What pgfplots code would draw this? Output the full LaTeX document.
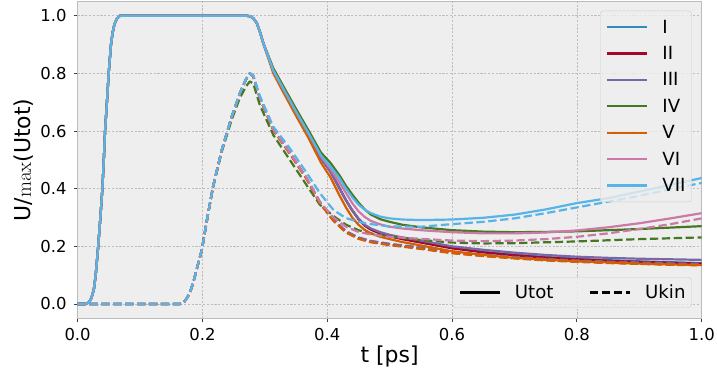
\documentclass[border=0pt]{standalone}
\usepackage[no-math]{fontspec}
\setmainfont{DejaVu Sans}
\usepackage{pgfplots}
\usepackage{pgfplotstable}
\pgfplotsset{compat=1.18}
\definecolor{cI}{HTML}{348ABD}
\definecolor{cII}{HTML}{A60628}
\definecolor{cIII}{HTML}{7A68A6}
\definecolor{cIV}{HTML}{467821}
\definecolor{cV}{HTML}{D55E00}
\definecolor{cVI}{HTML}{CC79A7}
\definecolor{cVII}{HTML}{56B4E9}
\definecolor{bmhbg}{HTML}{EEEEEE}
\definecolor{spine}{HTML}{BCBCBC}
\definecolor{gridc}{HTML}{BEBEBE}
\definecolor{legedge}{HTML}{CCCCCC}

\pgfplotstableread{
t      I     II    III   IV    V     VI    VII
0      0     0     0     0     0     0     0
0.012  0     0     0     0     0     0     0
0.018  0.005 0.005 0.005 0.005 0.005 0.005 0.005
0.022  0.02  0.02  0.02  0.02  0.02  0.02  0.02
0.026  0.05  0.05  0.05  0.05  0.05  0.05  0.05
0.029  0.10  0.10  0.10  0.10  0.10  0.10  0.10
0.033  0.20  0.20  0.20  0.20  0.20  0.20  0.20
0.0365 0.30  0.30  0.30  0.30  0.30  0.30  0.30
0.0397 0.40  0.40  0.40  0.40  0.40  0.40  0.40
0.042  0.50  0.50  0.50  0.50  0.50  0.50  0.50
0.044  0.60  0.60  0.60  0.60  0.60  0.60  0.60
0.047  0.70  0.70  0.70  0.70  0.70  0.70  0.70
0.0498 0.80  0.80  0.80  0.80  0.80  0.80  0.80
0.0535 0.90  0.90  0.90  0.90  0.90  0.90  0.90
0.056  0.94  0.94  0.94  0.94  0.94  0.94  0.94
0.059  0.97  0.97  0.97  0.97  0.97  0.97  0.97
0.063  0.99  0.99  0.99  0.99  0.99  0.99  0.99
0.068  1.0   1.0   1.0   1.0   1.0   1.0   1.0
0.27   1.0   1.0   1.0   1.0   1.0   1.0   1.0
0.277  0.998 0.998 0.998 0.998 0.998 0.998 0.998
0.282  0.99  0.99  0.99  0.99  0.99  0.99  0.99
0.287  0.975 0.975 0.975 0.975 0.975 0.975 0.975
0.292  0.945 0.945 0.945 0.945 0.945 0.945 0.945
0.2975 0.905 0.905 0.905 0.905 0.905 0.905 0.905
0.3136 0.81  0.81  0.81  0.818 0.80  0.81  0.81
0.33   0.745 0.745 0.745 0.754 0.733 0.745 0.745
0.35   0.667 0.667 0.667 0.677 0.653 0.667 0.667
0.37   0.592 0.592 0.592 0.602 0.576 0.592 0.592
0.39   0.505 0.505 0.505 0.525 0.49  0.512 0.515
0.405  0.46  0.46  0.46  0.49  0.44  0.47  0.478
0.42   0.40  0.40  0.40  0.445 0.375 0.42  0.435
0.43   0.36  0.36  0.36  0.41  0.335 0.385 0.40
0.44   0.325 0.325 0.325 0.38  0.30  0.35  0.37
0.45   0.295 0.295 0.297 0.352 0.275 0.322 0.345
0.46   0.272 0.272 0.275 0.328 0.257 0.302 0.327
0.47   0.258 0.258 0.262 0.31  0.245 0.288 0.315
0.485  0.245 0.244 0.249 0.294 0.233 0.276 0.303
0.50   0.236 0.235 0.240 0.285 0.225 0.268 0.297
0.52   0.227 0.225 0.231 0.275 0.215 0.262 0.293
0.55   0.215 0.213 0.220 0.266 0.203 0.256 0.291
0.60   0.195 0.193 0.200 0.256 0.183 0.249 0.293
0.65   0.181 0.179 0.188 0.251 0.170 0.245 0.299
0.70   0.171 0.169 0.178 0.249 0.160 0.245 0.310
0.75   0.163 0.161 0.170 0.250 0.153 0.248 0.328
0.80   0.157 0.155 0.164 0.252 0.148 0.255 0.350
0.85   0.152 0.150 0.160 0.256 0.144 0.266 0.367
0.90   0.148 0.146 0.157 0.260 0.140 0.280 0.390
0.95   0.145 0.143 0.155 0.265 0.137 0.297 0.413
1.00   0.142 0.140 0.153 0.270 0.135 0.315 0.437
}\utot

\pgfplotstableread{
t      I     II    III   IV    V     VI    VII
0      0     0     0     0     0     0     0
0.164  0     0     0     0     0     0     0
0.17   0.005 0.005 0.005 0.005 0.005 0.005 0.005
0.175  0.02  0.02  0.02  0.02  0.02  0.02  0.02
0.18   0.04  0.04  0.04  0.04  0.04  0.04  0.04
0.185  0.072 0.072 0.072 0.072 0.072 0.072 0.072
0.192  0.13  0.13  0.13  0.13  0.13  0.13  0.13
0.199  0.187 0.187 0.187 0.187 0.187 0.187 0.187
0.208  0.30  0.30  0.30  0.30  0.30  0.30  0.30
0.217  0.407 0.407 0.407 0.405 0.407 0.407 0.407
0.231  0.534 0.534 0.534 0.528 0.534 0.534 0.534
0.247  0.65  0.65  0.65  0.64  0.65  0.65  0.65
0.26   0.731 0.731 0.731 0.715 0.731 0.731 0.731
0.27   0.78  0.78  0.78  0.755 0.78  0.78  0.78
0.276  0.80  0.80  0.80  0.772 0.80  0.80  0.80
0.2815 0.79  0.79  0.79  0.765 0.79  0.79  0.792
0.292  0.715 0.715 0.715 0.69  0.715 0.715 0.722
0.3136 0.604 0.604 0.606 0.586 0.604 0.606 0.615
0.34   0.523 0.523 0.525 0.50  0.521 0.525 0.54
0.367  0.435 0.435 0.437 0.412 0.433 0.437 0.455
0.388  0.352 0.352 0.355 0.345 0.350 0.355 0.385
0.41   0.29  0.29  0.293 0.305 0.288 0.30  0.326
0.43   0.25  0.25  0.253 0.275 0.248 0.268 0.298
0.45   0.228 0.228 0.231 0.256 0.226 0.25  0.285
0.47   0.216 0.216 0.219 0.245 0.214 0.241 0.277
0.50   0.206 0.206 0.209 0.234 0.204 0.233 0.269
0.55   0.193 0.193 0.196 0.222 0.191 0.226 0.268
0.60   0.178 0.178 0.181 0.213 0.176 0.220 0.277
0.65   0.168 0.168 0.171 0.210 0.166 0.218 0.285
0.70   0.160 0.160 0.163 0.211 0.158 0.220 0.297
0.75   0.153 0.153 0.156 0.214 0.151 0.225 0.315
0.80   0.148 0.148 0.151 0.217 0.146 0.233 0.335
0.85   0.144 0.144 0.147 0.221 0.142 0.245 0.355
0.90   0.141 0.141 0.144 0.225 0.139 0.260 0.375
0.95   0.138 0.138 0.141 0.228 0.136 0.277 0.398
1.00   0.136 0.136 0.139 0.231 0.134 0.297 0.420
}\ukin

\pgfplotsset{
  common/.style={
    scale only axis, width=624.1bp, height=317.1bp,
    xmin=0, xmax=1, ymin=-0.05, ymax=1.05,
  },
  lw/.style={line width=2.2bp, line join=round},
  dsh/.style={dash pattern=on 8.3bp off 3.6bp},
  legfont/.style={font=\fontsize{18.2}{20}\selectfont},
}

\begin{document}
\begin{tikzpicture}
\path[use as bounding box] (-77.6bp,-57.6bp) rectangle (639.4bp,318.4bp);
\begin{axis}[common,
  axis background/.style={fill=bmhbg},
  axis line style={draw=spine, line width=1bp},
  xtick={0,0.2,0.4,0.6,0.8,1.0},
  ytick={0,0.2,0.4,0.6,0.8,1.0},
  tick pos=left, tick align=outside,
  major tick length=4bp,
  tick style={draw=black!75, line width=0.9bp},
  grid=major,
  major grid style={draw=gridc, line width=0.55bp, dash pattern=on 2.2bp off 1.6bp},
  /pgf/number format/.cd, fixed, fixed zerofill, precision=1, assume math mode=true,
  /pgfplots/.cd,
  xticklabel style={font=\fontsize{16.5}{18}\selectfont, inner sep=0pt, yshift=-5.6bp},
  yticklabel style={font=\fontsize{16.5}{18}\selectfont, inner sep=0pt, xshift=-6.9bp},
  xlabel={t [ps]},
  ylabel={U/$\max$(Utot)},
  xlabel style={font=\fontsize{22}{26}\selectfont, at={(axis description cs:0.5,0)}, anchor=center, yshift=-38.5bp, inner sep=0pt},
  ylabel style={font=\fontsize{22}{26}\selectfont, at={(axis description cs:0,0.5)}, anchor=center, yshift=53.6bp, inner sep=0pt},
  legend style={at={(1,1)}, anchor=north east, xshift=-10bp, yshift=-9.4bp,
    draw=legedge, fill=bmhbg, fill opacity=0.8, draw opacity=1, text opacity=1,
    rounded corners=3bp, inner xsep=6bp, inner ysep=3.1bp, legfont,
    nodes={inner sep=0pt, minimum height=26.4bp},
    /tikz/every odd column/.append style={column sep=14bp},
    cells={anchor=west}},
  legend image code/.code={\draw[#1, line width=2.2bp] (0bp,0bp) -- (40bp,0bp);},
]
\addplot[cI, lw] table[x=t, y=I] {\utot}; \addlegendentry{I}
\addplot[cI, lw, dsh, forget plot] table[x=t, y=I] {\ukin};
\addplot[cII, lw] table[x=t, y=II] {\utot}; \addlegendentry{II}
\addplot[cII, lw, dsh, forget plot] table[x=t, y=II] {\ukin};
\addplot[cIII, lw] table[x=t, y=III] {\utot}; \addlegendentry{III}
\addplot[cIII, lw, dsh, forget plot] table[x=t, y=III] {\ukin};
\addplot[cIV, lw] table[x=t, y=IV] {\utot}; \addlegendentry{IV}
\addplot[cIV, lw, dsh, forget plot] table[x=t, y=IV] {\ukin};
\addplot[cV, lw] table[x=t, y=V] {\utot}; \addlegendentry{V}
\addplot[cV, lw, dsh, forget plot] table[x=t, y=V] {\ukin};
\addplot[cVI, lw] table[x=t, y=VI] {\utot}; \addlegendentry{VI}
\addplot[cVI, lw, dsh, forget plot] table[x=t, y=VI] {\ukin};
\addplot[cVII, lw] table[x=t, y=VII] {\utot}; \addlegendentry{VII}
\addplot[cVII, lw, dsh, forget plot] table[x=t, y=VII] {\ukin};
\end{axis}
\begin{axis}[common, hide axis,
  legend columns=2,
  legend style={at={(1,0)}, anchor=south east, xshift=-10bp, yshift=10.7bp,
    draw=legedge, fill=bmhbg, fill opacity=0.8, draw opacity=1, text opacity=1,
    rounded corners=3bp, inner xsep=6bp, inner ysep=1.8bp, legfont,
    nodes={inner sep=0pt, minimum height=26.4bp},
    /tikz/every odd column/.append style={column sep=14bp},
    /tikz/every even column/.append style={column sep=35.5bp},
    cells={anchor=west}},
  legend image code/.code={\draw[#1, line width=2.2bp] (0bp,0bp) -- (40bp,0bp);},
]
\addlegendimage{black}
\addlegendentry{Utot}
\addlegendimage{black, dash pattern=on 8.3bp off 3.6bp}
\addlegendentry{Ukin}
\end{axis}
\end{tikzpicture}
\end{document}
